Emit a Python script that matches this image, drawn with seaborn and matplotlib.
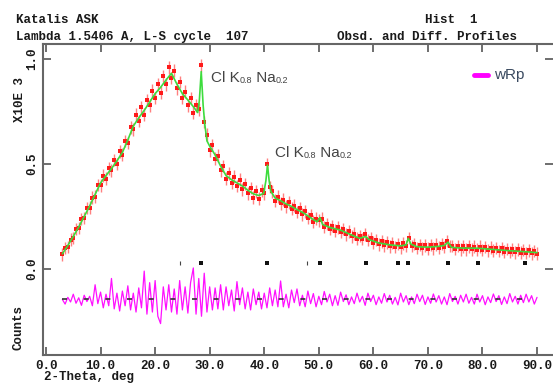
import numpy as np
import pandas as pd
import matplotlib
matplotlib.use("Agg")
import matplotlib.pyplot as plt
from matplotlib.lines import Line2D
import seaborn as sns

# ---------------- data ----------------
calc_x = [3.0, 4.0, 5.0, 6.0, 7.0, 8.0, 9.0, 10.0, 11.0, 12.0, 13.0, 14.0, 15.0,
          16.0, 17.0, 18.0, 19.0, 20.0, 21.0, 22.0, 23.0, 24.0, 25.0, 26.0, 27.0,
          27.8, 28.1, 28.45, 28.8, 29.1, 29.5, 30.0, 31.0, 32.0, 33.0, 34.0, 35.0,
          36.0, 37.0, 38.0, 39.0, 39.9, 40.3, 40.6, 40.9, 41.2, 42.0, 43.0, 44.0,
          45.0, 46.0, 47.0, 48.0, 49.0, 49.7, 50.2, 50.7, 52.0, 54.0, 56.0, 57.5,
          58.6, 59.2, 61.0, 63.0, 65.0, 66.0, 66.4, 66.9, 68.0, 70.0, 72.0, 73.0,
          73.7, 74.3, 76.0, 79.0, 82.0, 85.0, 88.0, 90.0]
calc_y = [0.072, 0.112, 0.155, 0.200, 0.250, 0.300, 0.355, 0.410, 0.445, 0.478,
          0.515, 0.555, 0.615, 0.680, 0.720, 0.755, 0.795, 0.835, 0.865, 0.900,
          0.932, 0.880, 0.835, 0.805, 0.773, 0.745, 0.800, 0.940, 0.780, 0.690,
          0.610, 0.585, 0.543, 0.490, 0.445, 0.425, 0.410, 0.395, 0.375, 0.358,
          0.350, 0.360, 0.420, 0.495, 0.420, 0.370, 0.338, 0.325, 0.310, 0.298,
          0.283, 0.270, 0.253, 0.235, 0.225, 0.245, 0.212, 0.198, 0.185, 0.162,
          0.146, 0.155, 0.140, 0.124, 0.115, 0.110, 0.115, 0.146, 0.118, 0.106,
          0.104, 0.108, 0.112, 0.128, 0.103, 0.100, 0.099, 0.093, 0.087, 0.082,
          0.078]

obs_x = np.arange(3.0, 90.01, 0.5)
obs_y = [0.070, 0.100, 0.105, 0.140, 0.148, 0.190, 0.195, 0.238, 0.242, 0.290,
         0.292, 0.340, 0.345, 0.400, 0.398, 0.445, 0.430, 0.480, 0.470, 0.520,
         0.500, 0.560, 0.545, 0.610, 0.600, 0.675, 0.665, 0.735, 0.705, 0.770,
         0.735, 0.805, 0.780, 0.850, 0.815, 0.880, 0.840, 0.920, 0.880, 0.960,
         0.910, 0.945, 0.860, 0.890, 0.815, 0.845, 0.780, 0.815, 0.745, 0.780,
         0.760, 0.970, 0.700, 0.640, 0.565, 0.590, 0.525, 0.540, 0.470, 0.490,
         0.430, 0.455, 0.410, 0.440, 0.395, 0.425, 0.380, 0.405, 0.360, 0.385,
         0.340, 0.370, 0.335, 0.375, 0.360, 0.500, 0.390, 0.370, 0.325, 0.345,
         0.312, 0.330, 0.298, 0.318, 0.288, 0.302, 0.272, 0.290, 0.260, 0.275,
         0.243, 0.255, 0.225, 0.240, 0.232, 0.240, 0.200, 0.215, 0.190, 0.205,
         0.183, 0.198, 0.176, 0.190, 0.165, 0.180, 0.155, 0.168, 0.144, 0.157,
         0.142, 0.165, 0.138, 0.148, 0.125, 0.138, 0.117, 0.132, 0.112, 0.127,
         0.108, 0.123, 0.105, 0.120, 0.103, 0.122, 0.110, 0.148, 0.110, 0.120,
         0.100, 0.114, 0.098, 0.113, 0.097, 0.114, 0.099, 0.116, 0.101, 0.119,
         0.105, 0.133, 0.110, 0.110, 0.095, 0.109, 0.094, 0.108, 0.093, 0.108,
         0.093, 0.106, 0.092, 0.106, 0.090, 0.104, 0.089, 0.102, 0.087, 0.100,
         0.085, 0.098, 0.083, 0.096, 0.081, 0.094, 0.080, 0.093, 0.078, 0.091,
         0.076, 0.089, 0.075, 0.086, 0.073]

diff_y = [0.000, -0.022, 0.010, -0.012, 0.025, -0.018, 0.008, -0.028, 0.020, -0.010,
          0.015, -0.030, 0.070, -0.020, 0.035, -0.040, 0.025, -0.030, 0.100, -0.045,
          0.030, -0.055, 0.040, -0.030, 0.065, -0.050, 0.030, -0.060, 0.055, -0.040,
          0.135, -0.070, 0.080, -0.060, 0.090, -0.080, -0.115, 0.060, -0.050, 0.070,
          -0.060, 0.050, -0.070, 0.090, -0.050, 0.060, -0.065, 0.080, 0.150, -0.070,
          0.100, -0.080, 0.125, -0.060, 0.060, -0.050, 0.055, -0.045, 0.070, -0.050,
          0.060, -0.030, 0.045, -0.055, 0.085, -0.025, 0.055, -0.045, 0.035, -0.050,
          0.050, -0.025, 0.035, -0.045, 0.030, -0.040, 0.055, -0.030, 0.045, -0.035,
          0.088, -0.035, 0.025, -0.040, 0.045, -0.015, 0.050, -0.030, 0.020, -0.035,
          0.040, -0.020, 0.028, -0.035, 0.015, -0.025, 0.038, -0.012, 0.025, -0.030,
          0.018, -0.028, 0.035, -0.010, 0.022, -0.025, 0.012, -0.020, 0.030, -0.012,
          0.015, -0.028, 0.030, -0.010, 0.020, -0.025, 0.012, -0.018, 0.028, -0.012,
          0.020, -0.022, 0.010, -0.026, 0.030, -0.012, 0.018, -0.025, 0.012, -0.020,
          0.025, -0.010, 0.020, -0.024, 0.012, -0.018, 0.026, -0.012, 0.018, -0.022,
          0.012, -0.025, 0.028, -0.010, 0.015, -0.022, 0.020, -0.012, 0.025, -0.018,
          0.010, -0.022, 0.025, -0.012, 0.018, -0.025, 0.012, -0.015, 0.026, -0.010,
          0.018, -0.024, 0.012, -0.020, 0.028, -0.012, 0.015, -0.022, 0.020, -0.015,
          0.025, -0.012, 0.018, -0.022, 0.010]
diff_offset = -0.145
diff_base_x = [3.0, 90.0]

refl_strong = [28.35, 40.5, 50.2, 58.6, 64.5, 66.3, 73.7, 79.1, 87.8]
refl_weak = [24.5, 47.9]
refl_level = 0.03

x_ticks = [0, 10, 20, 30, 40, 50, 60, 70, 80, 90]
x_tick_labels = ["0.0", "10.0", "20.0", "30.0", "40.0", "50.0", "60.0", "70.0", "80.0", "90.0"]
y_ticks = [0.0, 0.5, 1.0]
y_tick_labels = ["0.0", "0.5", "1.0"]

# ---------------- figure ----------------
W, H = 553, 383
sns.set_theme(style="white")
plt.rcParams["font.family"] = ["Liberation Mono", "DejaVu Sans Mono"]

fig = plt.figure(figsize=(W / 100, H / 100), dpi=100)
ax = fig.add_axes([43 / W, 28 / H, 510 / W, 311 / H])

obs_df = pd.DataFrame({"two_theta": obs_x, "obs": obs_y})
ax.errorbar(obs_x, obs_y, yerr=0.03, fmt="none", ecolor="#ff8080",
            elinewidth=1.0, zorder=2)
sns.scatterplot(data=obs_df, x="two_theta", y="obs", marker="s", s=10,
                color="#ff1a1a", linewidth=0, ax=ax, zorder=3)
sns.lineplot(x=calc_x, y=calc_y, color="#3ddc3d", lw=1.2, ax=ax,
             estimator=None, sort=False, zorder=4)

diff_df = pd.DataFrame({"two_theta": obs_x, "diff": np.array(diff_y) + diff_offset})
sns.lineplot(data=diff_df, x="two_theta", y="diff", color="#ff10ff", lw=0.9,
             ax=ax, estimator=None, sort=False, zorder=3)
ax.plot(diff_base_x, [diff_offset, diff_offset], color="#333333", lw=1.2,
        linestyle=(0, (3, 10)), zorder=5)

sns.scatterplot(x=refl_strong, y=[refl_level] * len(refl_strong), marker="s", s=5,
                color="#111111", linewidth=0, ax=ax, zorder=5)
sns.scatterplot(x=refl_weak, y=[refl_level] * len(refl_weak), marker="|", s=10,
                color="#444444", linewidth=0.8, ax=ax, zorder=5)

ax.set_xlim((43 - 46) / 5.456, (553 - 46) / 5.456)
ax.set_ylim((269 - 355) / 210, (269 - 44) / 210)
ax.set_xticks(x_ticks)
ax.set_xticklabels(x_tick_labels, fontsize=9, color="#1a1a1a", fontweight="bold")
ax.set_yticks(y_ticks)
ax.set_yticklabels(y_tick_labels, fontsize=9, color="#1a1a1a", rotation=90,
                   va="center", fontweight="bold")
ax.tick_params(direction="in", length=6, width=1.2, color="#555555",
               top=True, right=True, bottom=True, left=True, pad=3.5)
ax.set_xlabel("")
ax.set_ylabel("")
for side in ["left", "bottom", "top"]:
    ax.spines[side].set_color("#666666")
    ax.spines[side].set_linewidth(1.5)
ax.spines["right"].set_visible(False)
ax.grid(False)


def px(x, y):
    return x / W, 1 - y / H


mono = dict(fontsize=9, color="#1a1a1a", va="center", ha="left", fontweight="bold")
fig.text(*px(16, 20), "Katalis ASK", **mono)
fig.text(*px(425, 20), "Hist  1", **mono)
fig.text(*px(16, 37), "Lambda 1.5406 A, L-S cycle  107", **mono)
fig.text(*px(337, 37), "Obsd. and Diff. Profiles", **mono)
fig.text(*px(44, 377), "2-Theta, deg", **mono)
fig.text(*px(20, 99), "X10E 3", fontsize=9, color="#1a1a1a", rotation=90,
         va="center", ha="center", fontweight="bold")
fig.text(*px(19, 328), "Counts", fontsize=9, color="#1a1a1a", rotation=90,
         va="center", ha="center", fontweight="bold")


def formula(x0, y0):
    big = dict(fontsize=11, family="Liberation Sans", color="#444444")
    small = dict(fontsize=6.5, family="Liberation Sans", color="#444444")
    t1 = fig.text(*px(x0, y0), "Cl K", va="center", ha="left", **big)
    t2 = ax.annotate("0.8", xy=(1, 0), xycoords=t1, va="bottom", ha="left",
                     annotation_clip=False, **small)
    t3 = ax.annotate(" Na", xy=(1, 0), xycoords=(t2, t1), va="bottom", ha="left",
                     annotation_clip=False, **big)
    ax.annotate("0.2", xy=(1, 0), xycoords=(t3, t2), va="bottom", ha="left",
                annotation_clip=False, **small)


formula(211, 78)
formula(275, 153)

fig.add_artist(Line2D([474 / W, 488 / W], [1 - 75 / H] * 2, transform=fig.transFigure,
                      color="#ff00ff", lw=3.5))
fig.text(*px(494, 75), "wRp", fontsize=11, family="Liberation Sans",
         color="#3a4a60", va="center", ha="left")

fig.savefig("out.png", dpi=100)
